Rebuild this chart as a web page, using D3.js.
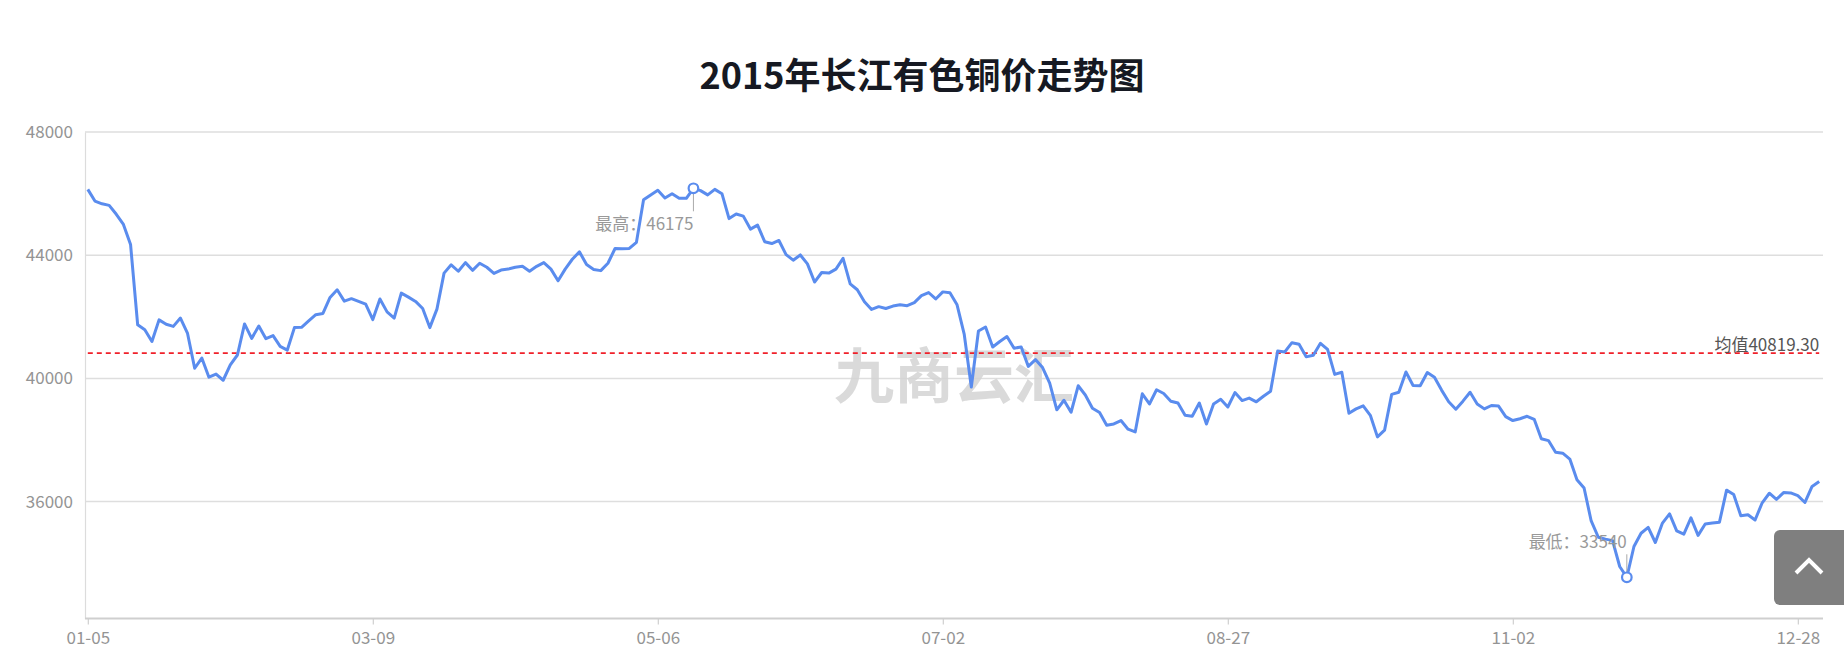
<!DOCTYPE html>
<html><head><meta charset="utf-8">
<script src="https://cdn.jsdelivr.net/npm/d3@7/dist/d3.min.js"></script>
<style>
html,body{margin:0;padding:0;background:#fff;}
svg{display:block;font-family:"Noto Sans CJK SC","Noto Sans",sans-serif;}
</style></head>
<body>
<svg id="chart" width="1844" height="659"></svg>
<script>
const title = "2015年长江有色铜价走势图";
const watermark = "九商云汇";
// trading-day calendar for 2015 (weekdays minus exchange holidays)
const startDate = "2015-01-05", endDate = "2015-12-31";
const holidays = ["02-18","02-19","02-20","02-23","02-24","04-06","05-01","06-22","09-03","09-04","10-01","10-02","10-05","10-06","10-07"];
const xTickLabels = ["01-05","03-09","05-06","07-02","08-27","11-02","12-28"];
const yTicks = [36000, 40000, 44000, 48000];
const yDomain = [32198, 48000];
const prices = [
46140,45760,45670,45620,45330,45000,44350,41740,41580,41200,
41900,41760,41690,41960,41460,40330,40660,40040,40140,39940,
40440,40760,41770,41300,41700,41290,41390,41040,40920,41650,
41660,41870,42070,42110,42630,42880,42510,42590,42500,42410,
41910,42580,42160,41960,42770,42640,42500,42270,41650,42250,
43420,43690,43480,43760,43510,43740,43610,43410,43520,43550,
43610,43640,43480,43640,43760,43550,43170,43550,43870,44110,
43700,43540,43500,43740,44220,44210,44220,44420,45800,45960,
46110,45860,46000,45850,45850,46175,46100,45960,46140,46000,
45190,45340,45270,44850,44980,44440,44380,44480,44020,43840,
44010,43720,43130,43440,43420,43550,43900,43070,42880,42490,
42240,42330,42270,42350,42390,42360,42460,42690,42790,42580,
42810,42780,42390,41440,39720,41540,41670,41020,41200,41360,
40980,41020,40390,40610,40350,39850,38980,39290,38900,39760,
39460,39030,38890,38480,38520,38630,38350,38260,39500,39170,
39630,39510,39260,39200,38800,38770,39200,38520,39170,39320,
39070,39540,39280,39360,39240,39420,39580,40890,40860,41160,
41110,40700,40750,41140,40940,40130,40200,38870,39010,39110,
38800,38100,38320,39480,39550,40210,39770,39760,40190,40040,
39620,39240,39000,39260,39550,39170,39010,39120,39100,38760,
38630,38690,38770,38670,38040,37980,37600,37570,37380,36710,
36440,35370,34840,34780,34730,33890,33540,34540,34970,35160,
34670,35300,35600,35050,34940,35470,34900,35270,35300,35330,
36370,36230,35540,35570,35400,35960,36270,36070,36290,36280,
36190,35970,36490,36650
];
const meanValue = 40819.30;
const maxLabel = "最高：", minLabel = "最低：", meanLabel = "均值";

// build categories
const fmt = d3.timeFormat("%m-%d");
const categories = d3.timeDay.range(new Date(startDate+"T00:00:00"), d3.timeDay.offset(new Date(endDate+"T00:00:00"),1))
  .filter(d => d.getDay() !== 0 && d.getDay() !== 6 && !holidays.includes(fmt(d)))
  .map(fmt);
const data = categories.map((c,i) => ({c, v: prices[i]}));

const svg = d3.select("#chart");
const axisX0 = 85, gridX1 = 1823;
const x = d3.scalePoint().domain(categories).range([87.8, 1819.2]);
const y = d3.scaleLinear().domain(yDomain).range([618.6, 132.1]);

// title
svg.append("text").attr("x", 922).attr("y", 73).attr("text-anchor","middle")
  .attr("dominant-baseline","central").attr("font-size",36).attr("font-weight","bold")
  .attr("fill","#161922").text(title);

// grid lines
svg.append("g").selectAll("line").data(yTicks).join("line")
  .attr("x1", axisX0).attr("x2", gridX1)
  .attr("y1", d => y(d)).attr("y2", d => y(d))
  .attr("stroke","#dedede").attr("stroke-width",1.5);

// y axis
const yAxis = svg.append("g").attr("transform",`translate(${axisX0},0)`)
  .call(d3.axisLeft(y).tickValues(yTicks).tickSize(0).tickPadding(12).tickFormat(d3.format("d")));
yAxis.select(".domain").attr("stroke","#dcdcdc").attr("stroke-width",1.2);
yAxis.selectAll("text").attr("font-size",17).attr("fill","#949494")
  .attr("font-family",'"Noto Sans CJK SC","Noto Sans",sans-serif');

// watermark
svg.append("text").attr("x", 954).attr("y", 371).attr("text-anchor","middle")
  .attr("dominant-baseline","central").attr("font-size",60).attr("font-weight","bold")
  .attr("fill","#d4d4d4").attr("opacity",0.85).text(watermark);

// x axis
const xAxis = svg.append("g").attr("transform","translate(0,618.6)")
  .call(d3.axisBottom(x).tickValues(xTickLabels).tickSize(6).tickPadding(7).tickSizeOuter(0));
xAxis.select(".domain").attr("stroke","#cfcfcf").attr("stroke-width",2)
  .attr("d", `M${axisX0},0H${gridX1}`);
xAxis.selectAll(".tick line").attr("stroke","#cfcfcf").attr("stroke-width",1.2);
xAxis.selectAll("text").attr("font-size",17).attr("fill","#949494")
  .attr("font-family",'"Noto Sans CJK SC","Noto Sans",sans-serif');

// mean line
svg.append("line").attr("x1", x(categories[0])).attr("x2", x(categories[categories.length-1]))
  .attr("y1", y(meanValue)).attr("y2", y(meanValue))
  .attr("stroke","#f0202a").attr("stroke-width",1.6).attr("stroke-dasharray","5,4");
svg.append("text").attr("x", x(categories[categories.length-1])).attr("y", y(meanValue)-10)
  .attr("text-anchor","end").attr("dominant-baseline","central").attr("font-size",17)
  .attr("fill","#555").text(meanLabel + meanValue.toFixed(2));

// line
const line = d3.line().x(d => x(d.c)).y(d => y(d.v));
svg.append("path").datum(data).attr("d", line).attr("fill","none")
  .attr("stroke","#5a8cee").attr("stroke-width",3).attr("stroke-linejoin","round");

// mark points
const maxD = data.reduce((a,b) => b.v > a.v ? b : a);
const minD = data.reduce((a,b) => b.v < a.v ? b : a);
function mark(d, label, dir){
  const px = x(d.c), py = y(d.v);
  svg.append("line").attr("x1",px).attr("x2",px)
    .attr("y1", py + dir*5).attr("y2", py + dir*23)
    .attr("stroke","#aaa").attr("stroke-width",1);
  svg.append("text").attr("x",px).attr("y", py + dir*(dir>0?34:37))
    .attr("text-anchor","end").attr("dominant-baseline","central")
    .attr("font-size",17).attr("fill","#999").text(label + d.v);
  svg.append("circle").attr("cx",px).attr("cy",py).attr("r",4.8)
    .attr("fill","#fff").attr("stroke","#5a8cee").attr("stroke-width",2.2);
}
mark(maxD, maxLabel, 1);
mark(minD, minLabel, -1);

// back-to-top button
svg.append("rect").attr("x",1774).attr("y",530).attr("width",80).attr("height",75).attr("rx",6)
  .attr("fill","#7f7f7f");
svg.append("path").attr("d","M1796,573L1809,560L1822,573").attr("fill","none")
  .attr("stroke","#fff").attr("stroke-width",4);
</script>
</body></html>
